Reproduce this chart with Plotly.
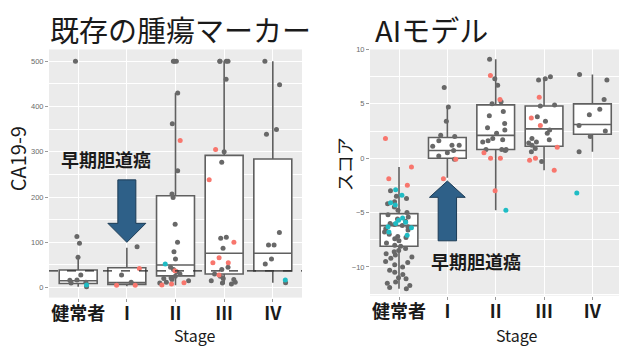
import plotly.graph_objects as go

W, H = 619, 347

stages = ["健常者", "I", "II", "III", "IV"]

# ---- CA19-9 (existing tumour marker) ----
ca_lower = [2, 3, 5, 8, 11]
ca_q1 = [9, 7, 26, 30, 37]
ca_median = [15, 11, 50, 76, 76]
ca_q3 = [39, 44, 203, 292, 284]
ca_upper = [65, 88, 430, 500, 500]
ca_cutoff = 37

ca_grey = {
    "健常者": [500, 113, 98, 67, 28, 17, 16, 12, 10, 2],
    "I": [90, 28, 12],
    "II": [500, 500, 500, 430, 362, 258, 207, 199, 140, 100, 79, 63, 45, 40, 35,
           30, 25, 22, 20, 18, 15, 12, 10],
    "III": [500, 500, 500, 500, 460, 300, 277, 111, 109, 87, 45, 40, 30, 25, 20,
            18, 15, 12, 10, 8],
    "IV": [500, 448, 349, 339, 122, 94, 94, 63, 52, 11],
}
ca_red = {
    "健常者": [],
    "I": [42, 5, 5],
    "II": [325, 37, 11, 8, 6],
    "III": [305, 238, 100, 66, 55, 55, 28],
    "IV": [],
}
ca_cyan = {"健常者": [6], "I": [], "II": [52], "III": [], "IV": [17]}

# ---- AI model score ----
ai_lower = [-12.0, -1.8, -4.8, -1.1, 0.6]
ai_q1 = [-8.1, 0.0, 0.8, 1.1, 2.2]
ai_median = [-6.2, 0.7, 2.1, 2.7, 3.1]
ai_q3 = [-5.1, 1.9, 4.9, 4.8, 5.0]
ai_upper = [-0.8, 4.7, 9.1, 7.4, 7.7]

ai_grey = {
    "健常者": [-3.0, -3.5, -3.7, -4.0, -4.2, -4.5, -4.8, -5.0, -5.2, -5.4, -5.6,
            -5.8, -6.0, -6.1, -6.2, -6.3, -6.5, -6.6, -6.8, -7.0, -7.2, -7.3,
            -7.4, -7.6, -7.8, -8.0, -8.1, -8.3, -8.5, -8.6, -8.8, -8.9, -9.1,
            -9.2, -9.5, -9.6, -9.8, -10.0, -10.3, -10.5, -10.7, -11.0, -11.1,
            -11.4, -11.5, -11.7, -11.9, -12.0],
    "I": [6.5, 4.7, 3.4, 2.1, 2.0, 1.6, 1.2, 1.2, 1.1, 0.7, 0.5, 0.2, -0.1],
    "II": [9.1, 7.3, 6.7, 5.2, 5.0, 4.3, 3.9, 3.2, 2.8, 2.6, 2.3, 1.8, 1.7, 1.6,
           1.5, 0.8, 0.8, 0.8, 0.7],
    "III": [7.5, 7.3, 7.2, 4.9, 4.8, 3.8, 3.4, 2.6, 2.3, 1.8, 1.7, 1.5, 1.4, 1.2,
            0.9, 0.6, -0.3],
    "IV": [7.7, 7.2, 5.4, 4.5, 4.0, 3.0, 2.5, 2.0, 0.6],
}
ai_red = {
    "健常者": [1.8, -0.8, -1.9, -2.5],
    "I": [-0.1, -1.9],
    "II": [7.6, 5.4, 0.5, 0.0, 0.0, -3.0],
    "III": [5.6, 3.7, 3.0, 1.0, 0.0, -0.2, -1.1],
    "IV": [],
}
ai_cyan = {
    "健常者": [-2.9, -3.4, -4.1, -4.3, -5.5, -5.7, -5.9, -6.0, -6.3, -6.4, -6.8, -7.1],
    "I": [], "II": [-4.8], "III": [], "IV": [-3.2],
}

GREY, RED, CYAN = "#686868", "#f8766d", "#1fbcc4"
BOX_W = 0.78
FONT = "Noto Sans CJK JP"

fig = go.Figure()


def box_layer(lower, q1, med, q3, upper, xa, ya):
    return go.Box(
        x=list(range(len(stages))), lowerfence=lower, q1=q1, median=med,
        q3=q3, upperfence=upper, boxpoints=False, width=BOX_W, whiskerwidth=0,
        fillcolor="white", line=dict(color="#606060", width=1.6),
        xaxis=xa, yaxis=ya, showlegend=False,
    )


def point_layer(groups, color, xa, ya):
    xs, ys = [], []
    for i, s in enumerate(stages):
        xs += [i] * len(groups[s])
        ys += groups[s]
    return go.Box(
        x=xs, y=ys, boxpoints="all", jitter=0.85, pointpos=0, width=BOX_W,
        fillcolor="rgba(0,0,0,0)", line=dict(width=0, color="rgba(0,0,0,0)"),
        marker=dict(color=color, size=5), hoveron="points",
        xaxis=xa, yaxis=ya, showlegend=False,
    )


fig.add_trace(box_layer(ca_lower, ca_q1, ca_median, ca_q3, ca_upper, "x", "y"))
for g, c in ((ca_grey, GREY), (ca_red, RED), (ca_cyan, CYAN)):
    fig.add_trace(point_layer(g, c, "x", "y"))

fig.add_trace(box_layer(ai_lower, ai_q1, ai_median, ai_q3, ai_upper, "x2", "y2"))
for g, c in ((ai_grey, GREY), (ai_red, RED), (ai_cyan, CYAN)):
    fig.add_trace(point_layer(g, c, "x2", "y2"))


def arrow_path(cx, y_tail, y_base, y_tip, shaft, head):
    return (f"M {cx - shaft},{y_tail} L {cx + shaft},{y_tail} L {cx + shaft},{y_base} "
            f"L {cx + head},{y_base} L {cx},{y_tip} L {cx - head},{y_base} "
            f"L {cx - shaft},{y_base} Z")


i_stage = stages.index("I")
arrow_style = dict(type="path", fillcolor="#2e6088", line=dict(color="#1c3b55", width=1),
                   layer="above")
shapes = [
    dict(type="line", xref="x domain", x0=0, x1=1, yref="y", y0=ca_cutoff, y1=ca_cutoff,
         line=dict(color="#2b2b2b", width=1.2, dash="dash"), layer="above"),
    dict(xref="x", yref="y", path=arrow_path(i_stage, 238, 142, 100, 0.185, 0.39),
         **arrow_style),
    dict(xref="x2", yref="y2", path=arrow_path(i_stage, -7.6, -3.6, -2.1, 0.19, 0.37),
         **arrow_style),
]


def px_x(p):
    return p / W


def px_y(p):
    return 1 - p / H


def label(text, x, y, size, angle=0, weight="normal", xref="paper", yref="paper"):
    return dict(text=text, x=x, y=y, xref=xref, yref=yref, xanchor="center",
                yanchor="middle", textangle=angle, showarrow=False,
                font=dict(family=FONT, size=size, color="#1a1a1a", weight=weight))


annotations = [
    label("既存の腫瘍マーカー", px_x(180), px_y(25), 29),
    label("AIモデル", px_x(431), px_y(25), 29),
    label("CA19-9", px_x(17), px_y(157), 20, angle=-90),
    label("スコア", px_x(344), px_y(162), 18, angle=-90),
    label("Stage", px_x(195), px_y(335), 16),
    label("Stage", px_x(517), px_y(335), 16),
    label("早期胆道癌", 0.57, 284, 18, weight="bold", xref="x", yref="y"),
    label("早期胆道癌", 1.6, -9.5, 18, weight="bold", xref="x2", yref="y2"),
]

xaxis_common = dict(
    tickmode="array", tickvals=list(range(len(stages))), ticktext=stages,
    showgrid=True, gridcolor="white", gridwidth=1.1, zeroline=False, showline=False,
    ticks="outside", ticklen=3, tickcolor="#9a9a9a", ticklabelstandoff=-3,
    tickfont=dict(family=FONT, size=18, color="#1a1a1a", weight="bold"),
)
yaxis_common = dict(
    showgrid=True, gridcolor="white", gridwidth=1.1, zeroline=False, showline=False,
    ticks="outside", ticklen=3, tickcolor="#9a9a9a",
    tickfont=dict(family="Liberation Sans", size=7.5, color="#6a6a6a"),
)

fig.update_layout(
    width=W, height=H, autosize=False,
    margin=dict(l=0, r=0, t=0, b=0),
    paper_bgcolor="white", plot_bgcolor="#ebebeb",
    boxmode="overlay",
    xaxis=dict(domain=[px_x(49), px_x(302)], range=[-0.6, 4.6], anchor="y", **xaxis_common),
    yaxis=dict(domain=[px_y(297), px_y(46)], range=[-22, 526], anchor="x",
               tickvals=[0, 100, 200, 300, 400, 500],
               minor=dict(dtick=50, tick0=0, showgrid=True, gridcolor="white",
                          gridwidth=0.5, ticks=""),
               **yaxis_common),
    xaxis2=dict(domain=[px_x(370), 1.0], range=[-0.6, 4.55], anchor="y2", **xaxis_common),
    yaxis2=dict(domain=[px_y(295), px_y(46)], range=[-12.64, 10.0], anchor="x2",
                tickvals=[-10, -5, 0, 5, 10],
                minor=dict(dtick=2.5, tick0=0, showgrid=True, gridcolor="white",
                           gridwidth=0.5, ticks=""),
                **yaxis_common),
    shapes=shapes,
    annotations=annotations,
)

fig.write_html("out.html")
